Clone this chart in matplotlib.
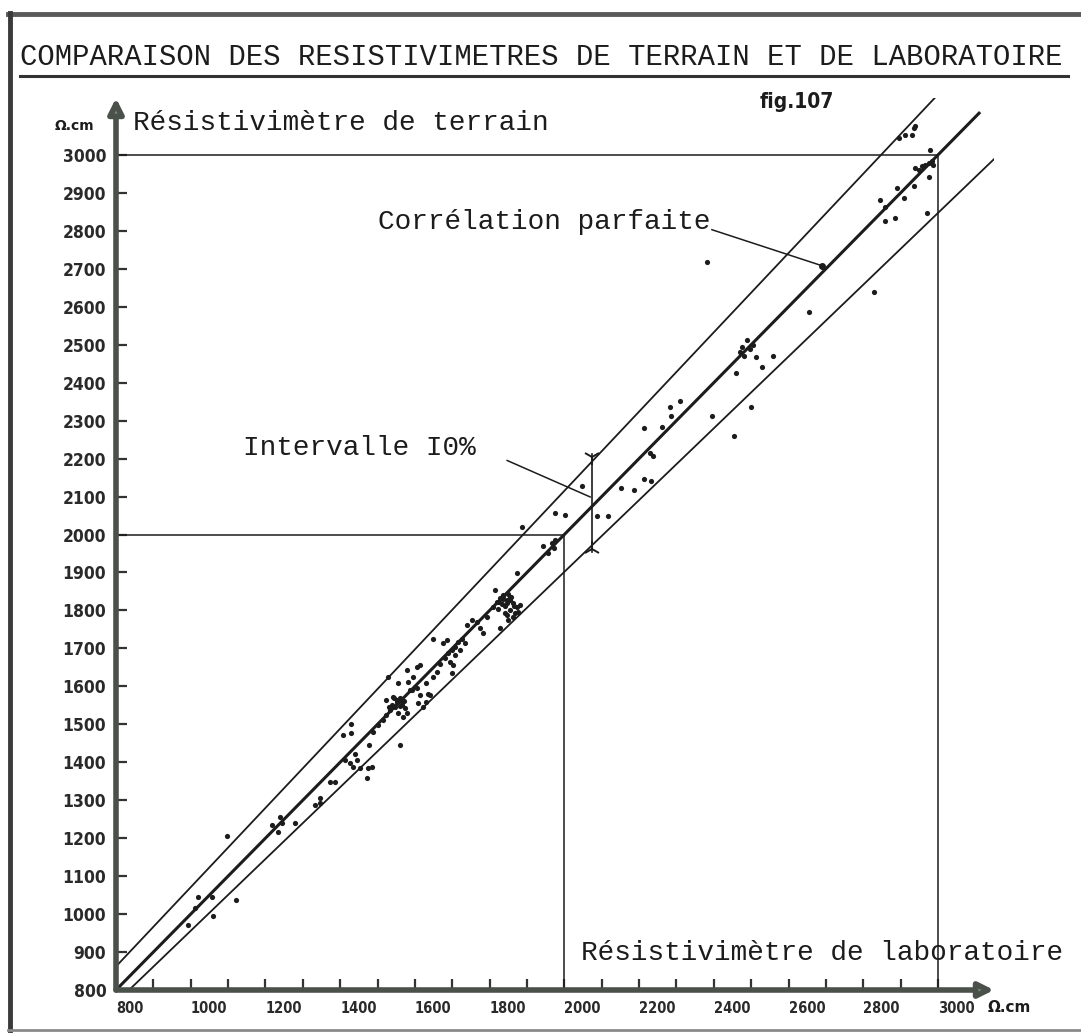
import matplotlib.pyplot as plt
import numpy as np

W, H = 1081, 1036
INK = '#1c1c1c'
AXIS = '#4a504a'
MONO = 'Liberation Mono'

# axis ticks (ohm.cm)
x_minor = list(range(800, 3001, 100))
x_major = list(range(800, 3001, 200))
x_labels = ['800', '1000', '1200', '1400', '1600', '1800', '2000',
            '2200', '2400', '2600', '2800', '3000']
y_ticks = list(range(800, 3001, 100))
y_labels = ['800', '900', '1000', '1100', '1200', '1300', '1400', '1500',
            '1600', '1700', '1800', '1900', '2000', '2100', '2200', '2300',
            '2400', '2500', '2600', '2700', '2800', '2900', '3000']

# laboratoire (x) vs terrain (y)
lab = [1097, 1020, 1057, 1011, 1060, 1121, 993,
       1217, 1239, 1244, 1233, 1279, 1333, 1346, 1373,
       1346, 1386, 1413, 1426, 1435, 1444, 1453, 1440, 1475, 1484,
       1473, 1478, 1560, 1408, 1428, 1428, 1489, 1502, 1514, 1524,
       1533, 1547, 1551, 1560, 1565, 1574, 1578, 1556, 1569, 1542,
       1524, 1529, 1556, 1578, 1582, 1596, 1605, 1614, 1591, 1605,
       1614, 1636, 1631, 1649, 1658, 1667, 1681, 1689, 1698, 1707,
       1716, 1725, 1734, 1721, 1707, 1694, 1703, 1685, 1676, 1649,
       1698, 1739, 1752, 1765, 1774, 1783, 1792, 1810, 1819, 1828,
       1837, 1846, 1854, 1863, 1872, 1854, 1846, 1863, 1877, 1814,
       1828, 1872, 1881, 1823, 1832, 1623, 1609, 1631, 1640,
       1837, 1846, 1855, 1864, 1841, 1868, 1850,
       1538, 1552, 1566, 1545, 1560, 1572, 1530, 1588, 1600,
       1835, 1848, 1826, 1858, 1842,
       1886, 1944, 1957, 1966, 1975, 1971, 1975, 2002, 2047, 2087,
       2118, 2151, 2187, 2213, 2231, 2229, 2238, 2213, 2262, 2283,
       2286, 2310, 2394, 2455, 2499,
       2475, 2488, 2496, 2505, 2482, 2470, 2512, 2460, 2530, 2558,
       2382,
       2656, 2828, 2846, 2859, 2859, 2886, 2890, 2908, 2935, 2970,
       2975, 2939, 2948, 2957, 2966, 2975, 2984, 2988, 2979,
       2895, 2913, 2930, 2935, 2939]
terrain = [1206, 1045, 1045, 1016, 995, 1037, 971,
           1235, 1256, 1240, 1216, 1240, 1287, 1293, 1348,
           1305, 1349, 1406, 1397, 1388, 1406, 1384, 1423, 1384, 1388,
           1358, 1445, 1445, 1472, 1476, 1502, 1481, 1498, 1511, 1524,
           1538, 1546, 1560, 1568, 1551, 1542, 1529, 1529, 1520, 1573,
           1564, 1625, 1608, 1643, 1612, 1625, 1652, 1656, 1590, 1595,
           1577, 1581, 1608, 1625, 1639, 1660, 1674, 1687, 1696, 1704,
           1718, 1726, 1713, 1696, 1682, 1665, 1656, 1722, 1713, 1726,
           1634, 1761, 1775, 1770, 1753, 1740, 1783, 1810, 1823, 1832,
           1840, 1827, 1836, 1819, 1810, 1801, 1788, 1783, 1797, 1854,
           1753, 1898, 1814, 1805, 1818, 1546, 1555, 1559, 1577,
           1837, 1819, 1828, 1811, 1793, 1793, 1776,
           1552, 1565, 1558, 1570, 1548, 1562, 1545, 1590, 1598,
           1830, 1842, 1822, 1836, 1812,
           2021, 1969, 1951, 1977, 1986, 1964, 2056, 2052, 2128, 2048,
           2048, 2122, 2118, 2146, 2140, 2215, 2206, 2280, 2283, 2337,
           2313, 2351, 2311, 2260, 2336,
           2495, 2512, 2488, 2500, 2470, 2480, 2468, 2425, 2440, 2470,
           2718,
           2585, 2638, 2882, 2864, 2825, 2834, 2913, 2886, 2917, 2847,
           2943, 2965, 2961, 2970, 2974, 2979, 2983, 2974, 3012,
           3044, 3053, 3053, 3071, 3075]

# perfect correlation and the two band limits
perfect = [800, 3110]
upper_x, upper_y = [800, 3020], [862, 3180]
lower_x, lower_y = [835, 3185], [800, 3022]

fig = plt.figure(figsize=(W / 100, H / 100), dpi=100)
ax = fig.add_axes([116 / W, 1 - 990 / H, 878 / W, 892 / H])
ax.set_xlim(800, 3150)
ax.set_ylim(800, 3150)
for s in ax.spines.values():
    s.set_visible(False)

# axes drawn as arrows
arrow = dict(arrowstyle='-|>', lw=4, color=AXIS, fc='#7d857d',
             mutation_scale=22, shrinkA=0, shrinkB=0)
ax.annotate('', xy=(1, 0), xytext=(0, 0), xycoords='axes fraction',
            arrowprops=arrow, annotation_clip=False)
ax.annotate('', xy=(0, 1), xytext=(0, 0), xycoords='axes fraction',
            arrowprops=arrow, annotation_clip=False)

ax.set_xticks(x_major)
ax.set_xticklabels(x_labels)
ax.set_xticks(x_minor, minor=True)
ax.set_yticks(y_ticks)
ax.set_yticklabels(y_labels)
ax.tick_params(which='both', direction='in', length=8, width=1.6,
               color='#333333')
ax.tick_params(axis='x', pad=8, labelsize=10.5)
ax.tick_params(axis='y', pad=7, labelsize=12.5)
for lab_ in ax.get_xticklabels():
    lab_.set_ha('left')
    lab_.set_fontweight('bold')
    lab_.set_fontstretch('condensed')
    lab_.set_color('#2a2a2a')
for lab_ in ax.get_yticklabels():
    lab_.set_fontweight('bold')
    lab_.set_fontstretch('condensed')
    lab_.set_color('#2a2a2a')

# guide squares at 2000 and 3000
for v in (2000, 3000):
    ax.plot([800, v], [v, v], color=INK, lw=1.1)
    ax.plot([v, v], [800, v], color=INK, lw=1.1)

ax.plot(perfect, perfect, color=INK, lw=2.2)
ax.plot(upper_x, upper_y, color=INK, lw=1.3)
ax.plot(lower_x, lower_y, color=INK, lw=1.3)

ax.scatter(lab, terrain, s=14, color=INK, zorder=3, linewidths=0)

# 10 % bracket
ax.plot([2074, 2074], [1955, 2212], color=INK, lw=1.2)
ax.plot([2074], [2205], marker='1', ms=12, mew=1.4, color=INK)
ax.plot([2074], [1962], marker='2', ms=12, mew=1.4, color=INK)

# annotations
ax.text(1140, 2228, 'Intervalle I0%', family=MONO, fontsize=20,
        ha='left', va='center', color=INK)
ax.plot([1847, 2069], [2195, 2099], color=INK, lw=1.1)
ax.text(1501, 2824, 'Corrélation parfaite', family=MONO, fontsize=20,
        ha='left', va='center', color=INK)
ax.plot([2395, 2690], [2803, 2708], color=INK, lw=1.1)
ax.plot([2690], [2708], 'o', ms=4, color=INK)

# page texts
fig.text(541 / W, 1 - 57 / H,
         'COMPARAISON DES RESISTIVIMETRES DE TERRAIN ET DE LABORATOIRE',
         family=MONO, fontsize=20.8, ha='center', va='center', color=INK)
fig.add_artist(plt.Line2D([20 / W, 1068 / W], [1 - 76 / H, 1 - 76 / H],
                          color='#333333', lw=2.2))
fig.text(760 / W, 1 - 102 / H, 'fig.107', fontsize=15, fontweight='bold',
         fontstretch='condensed', ha='left', va='center', color=INK)
fig.text(133 / W, 1 - 123 / H, 'Résistivimètre de terrain', family=MONO,
         fontsize=20, ha='left', va='center', color=INK)
fig.text(1063 / W, 1 - 953 / H, 'Résistivimètre de laboratoire',
         family=MONO, fontsize=20, ha='right', va='center', color=INK)
fig.text(74 / W, 1 - 126 / H, 'Ω.cm', fontsize=10, fontweight='bold',
         ha='center', va='center', color=INK)
fig.text(988 / W, 1 - 1008 / H, 'Ω.cm', fontsize=11, fontweight='bold',
         ha='left', va='center', color=INK)

# page frame
fig.add_artist(plt.Line2D([8 / W, 1], [1 - 14 / H, 1 - 14 / H],
                          color='#5a5a5a', lw=3.5))
fig.add_artist(plt.Line2D([10 / W, 10 / W], [1 - 13 / H, 1 - 1030 / H],
                          color='#3a3a3a', lw=3.5))
fig.add_artist(plt.Line2D([8 / W, 1], [1 - 1030 / H, 1 - 1030 / H],
                          color='#8a8a8a', lw=2))

fig.savefig('out.png', dpi=100)
